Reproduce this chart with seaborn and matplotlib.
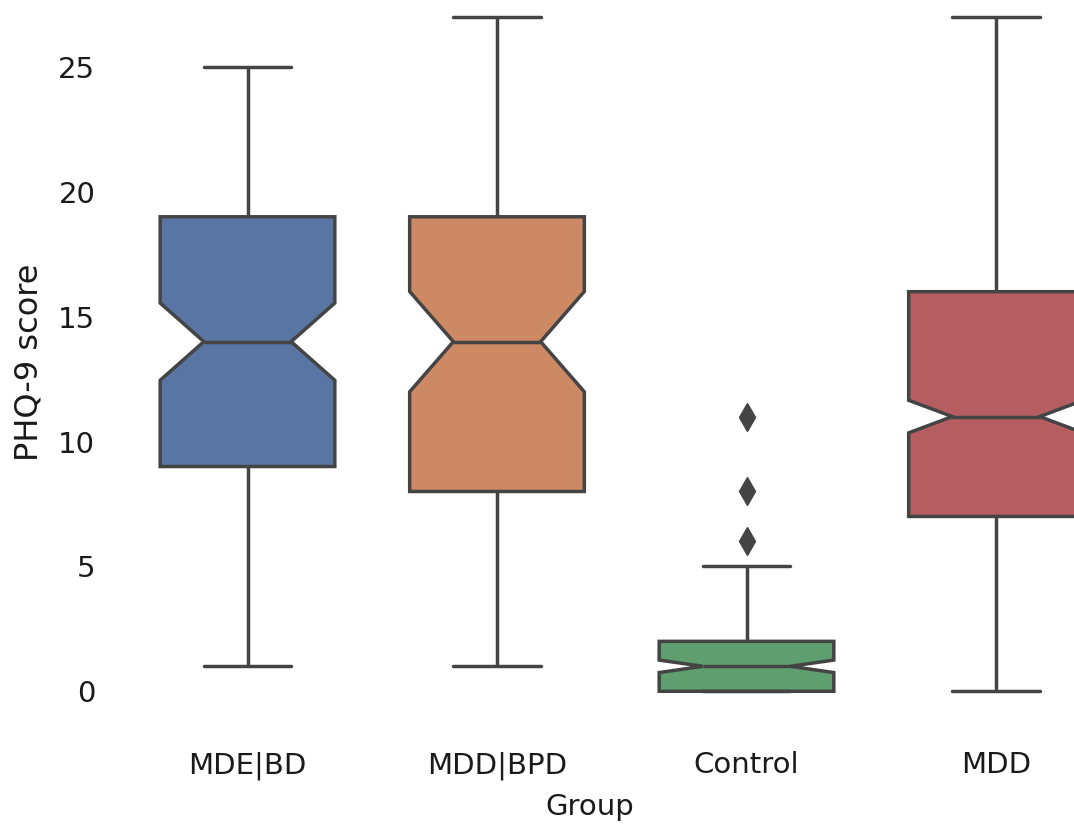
import numpy as np
import pandas as pd
import seaborn as sns
import matplotlib.pyplot as plt

# score distribution per group (score value -> number of subjects)
groups = ["MDE|BD", "MDD|BPD", "Control", "MDD"]
colors = ["#4C72B0", "#DD8452", "#55A868", "#C44E52"]

mde_bd_scores = list(range(1, 26))
mde_bd_counts = [2, 2, 2, 3, 3, 3, 4, 5, 5, 5, 5, 5, 5, 5, 5, 5, 5, 5, 5, 4, 4, 4, 4, 4, 4]

mdd_bpd_scores = list(range(1, 28))
mdd_bpd_counts = [2, 2, 2, 2, 2, 3, 4, 4, 3, 3, 3, 3, 3, 4, 3, 3, 3, 3, 4, 3, 3, 3, 2, 2, 2, 1, 2]

control_scores = [0, 1, 2, 3, 4, 5, 6, 8, 11]
control_counts = [50, 45, 35, 14, 7, 4, 1, 1, 1]

mdd_scores = list(range(0, 28))
mdd_counts = [8, 10, 12, 14, 16, 20, 24, 26, 28, 28, 30, 30, 26, 24, 22, 20, 20,
              18, 16, 14, 13, 12, 10, 9, 7, 6, 4, 3]

rows = []
for g, sc, ct in zip(groups,
                     [mde_bd_scores, mdd_bpd_scores, control_scores, mdd_scores],
                     [mde_bd_counts, mdd_bpd_counts, control_counts, mdd_counts]):
    vals = np.repeat(sc, ct)
    rows.append(pd.DataFrame({"Group": g, "PHQ-9 score": vals}))
df = pd.concat(rows, ignore_index=True)

sns.set_theme(style="white")
plt.rcParams['font.family'] = ['DejaVu Sans']

fig = plt.figure(figsize=(10.74, 8.25), dpi=100)
ax = fig.add_axes([105 / 1074, 100 / 825, 1 - 105 / 1074, 725 / 825])

line_c = "#444444"
sns.boxplot(data=df, x="Group", y="PHQ-9 score", hue="Group", order=groups,
            hue_order=groups, palette=colors, saturation=0.75, notch=True,
            width=0.7, linewidth=2.5, linecolor=line_c, fliersize=14,
            flierprops={"marker": "d", "markerfacecolor": line_c,
                        "markeredgecolor": line_c},
            legend=False, ax=ax)

ax.set_xlim(-142.5 / 249.5, (1074 - 247.5) / 249.5)
ax.set_ylim(-1.35, 27.68)
ax.set_yticks([0, 5, 10, 15, 20, 25])
ax.tick_params(axis="both", length=0, labelsize=21, colors="#1a1a1a")
ax.tick_params(axis="y", pad=7)
ax.tick_params(axis="x", pad=19)
ax.set_xlabel("Group", fontsize=21, labelpad=9.5, color="#1a1a1a")
ax.set_ylabel("PHQ-9 score", fontsize=23, labelpad=10, color="#1a1a1a")
sns.despine(left=True, bottom=True)

fig.savefig("out.png", dpi=100)
